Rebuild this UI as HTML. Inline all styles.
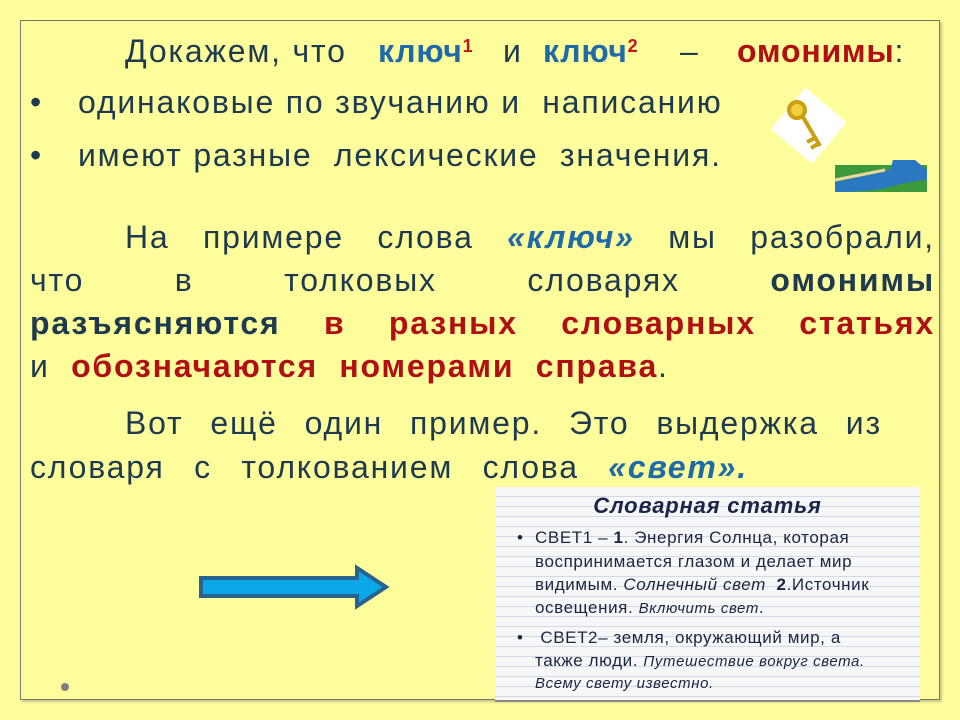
<!DOCTYPE html>
<html><head><meta charset="utf-8"><style>
html,body{margin:0;padding:0;}
body{width:960px;height:720px;background:#fefd9b;position:relative;overflow:hidden;font-family:"Liberation Sans",sans-serif;color:#1e3a50;}
.frame{position:absolute;left:20px;top:20px;width:920px;height:680px;border:1px solid #7a7a6a;box-sizing:border-box;box-shadow:2px 2px 2px #c8c88a;}
.l{position:absolute;height:40px;line-height:40px;font-size:32px;letter-spacing:1.8px;white-space:nowrap;}
.j{display:flex;justify-content:space-between;}
.b{color:#1f6aa8;font-weight:bold}
.r{color:#b00f14;font-weight:bold}
.d{color:#1e3a50;font-weight:bold}
sup{font-size:18px;color:#c0141a;font-weight:bold;vertical-align:10px;line-height:0;letter-spacing:0}
.box{position:absolute;left:495px;top:487px;width:425px;height:213px;background:#f6f7f9;
background-image:repeating-linear-gradient(to bottom,transparent 0,transparent 9px,#d4dae4 9px,#d4dae4 10px);border-bottom:2px solid #888;}
.bt{position:absolute;font-size:17px;letter-spacing:0.6px;line-height:23px;color:#1a2540;white-space:nowrap;}
.bt i.s{font-size:15px;letter-spacing:0.6px}
</style></head><body>
<div class="frame"></div>
<div class="l" style="left:125px;top:31px">Докажем, что</div>
<div class="l b" style="left:378px;top:31px;letter-spacing:0.8px">ключ<sup>1</sup></div>
<div class="l" style="left:503px;top:31px">и</div>
<div class="l b" style="left:543px;top:31px;letter-spacing:0.8px">ключ<sup>2</sup></div>
<div class="l" style="left:680px;top:31px">–</div>
<div class="l" style="left:737px;top:31px;letter-spacing:0.8px"><span class="r">омонимы</span>:</div>
<div class="l" style="left:30px;top:82px">•</div>
<div class="l" style="left:78px;top:82px">одинаковые по звучанию и&nbsp; написанию</div>
<div class="l" style="left:30px;top:135px">•</div>
<div class="l" style="left:78px;top:135px">имеют разные&nbsp; лексические&nbsp; значения.</div>

<div class="l j" style="left:125px;width:810px;top:217px"><span>На</span><span>примере</span><span>слова</span><span class="b" style="font-style:italic">«ключ»</span><span>мы</span><span>разобрали,</span></div>
<div class="l j" style="left:30px;width:905px;top:260px"><span>что</span><span>в</span><span>толковых</span><span>словарях</span><span class="d">омонимы</span></div>
<div class="l j" style="left:30px;width:905px;top:303px"><span class="d">разъясняются</span><span class="r">в</span><span class="r">разных</span><span class="r">словарных</span><span class="r">статьях</span></div>
<div class="l" style="left:30px;top:346px">и&nbsp; <span class="r">обозначаются&nbsp; номерами&nbsp; справа</span>.</div>
<div class="l j" style="left:125px;width:757px;top:403px"><span>Вот</span><span>ещё</span><span>один</span><span>пример.</span><span>Это</span><span>выдержка</span><span>из</span></div>
<div class="l j" style="left:30px;width:718px;top:447px"><span>словаря</span><span>с</span><span>толкованием</span><span>слова</span><span class="b" style="font-style:italic">«свет».</span></div>

<svg style="position:absolute;left:0;top:0" width="960" height="720">
<polygon points="201,578 357,578 357,568 386,587 357,606 357,596 201,596" fill="#0aa8e8" stroke="#28628e" stroke-width="4" stroke-linejoin="miter"/>
<circle cx="65" cy="687" r="4" fill="#808080"/>
<g transform="rotate(40 808 125)"><rect x="782" y="98" width="54" height="54" fill="#fff"/></g>
<g stroke="#c8a010" stroke-width="4" fill="none"><circle cx="797" cy="110" r="8" fill="#f0d040"/><line x1="803" y1="117" x2="820" y2="146"/><line x1="815" y1="138" x2="807" y2="142"/><line x1="818" y1="144" x2="811" y2="148"/></g>
<rect x="835" y="165" width="92" height="27" fill="#3c9a3a"/>
<path d="M835 182 Q870 175 890 170 L893 160 L915 160 L927 170 L927 180 Q905 182 890 187 Q870 192 835 192 Z" fill="#2c78c0"/>
<path d="M835 180 Q865 174 885 170" stroke="#e8d8a0" stroke-width="3" fill="none"/>
</svg>

<div class="box">
<div class="bt" style="left:0;width:425px;text-align:center;top:7px;font-size:22px;letter-spacing:0.8px;font-weight:bold;font-style:italic;color:#1a2548">Словарная статья</div>
<div class="bt" style="left:22px;top:39px">•</div>
<div class="bt" style="left:40px;top:39px">СВЕТ1 – <b>1</b>. Энергия Солнца, которая</div>
<div class="bt" style="left:40px;top:63px">воспринимается глазом и делает мир</div>
<div class="bt" style="left:40px;top:86px">видимым. <i>Солнечный свет</i>&nbsp; <b>2</b>.Источник</div>
<div class="bt" style="left:40px;top:109px">освещения. <i class="s">Включить свет</i>.</div>
<div class="bt" style="left:22px;top:139px">•</div>
<div class="bt" style="left:40px;top:139px">&nbsp;СВЕТ2– земля, окружающий мир, а</div>
<div class="bt" style="left:40px;top:162px">также люди. <i class="s">Путешествие вокруг света.</i></div>
<div class="bt" style="left:40px;top:184px"><i class="s">Всему свету известно.</i></div>
</div>
</body></html>
